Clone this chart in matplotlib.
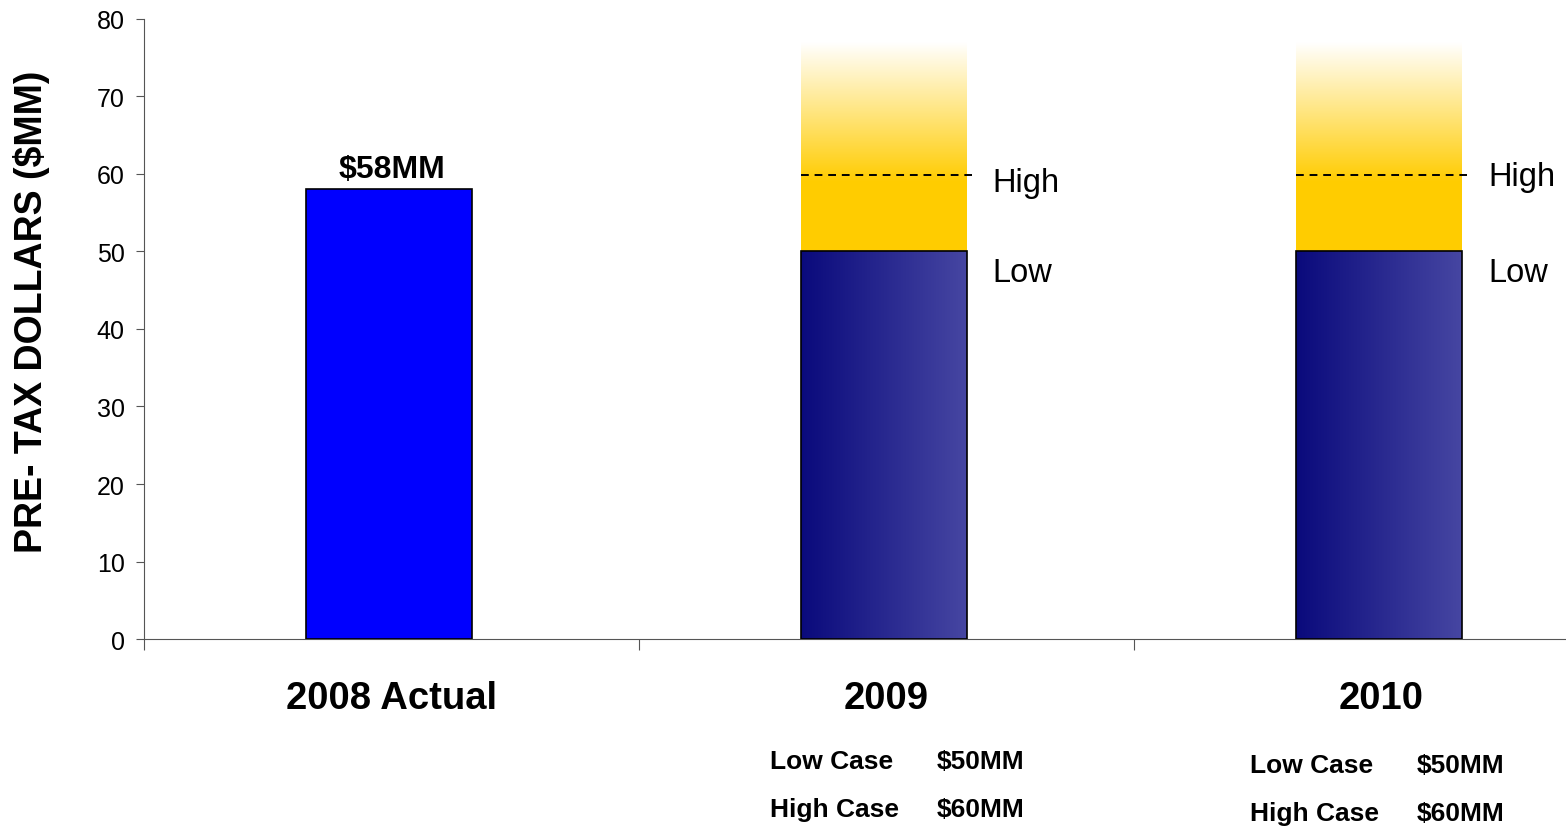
import numpy as np
import matplotlib.pyplot as plt
from matplotlib.colors import to_rgb

plt.rcParams["font.family"] = ["Liberation Sans", "DejaVu Sans"]

categories = ["2008 Actual", "2009", "2010"]
actual_value = 58
low_values = [50, 50]
high_values = [60, 60]
fade_top = 77
case_labels = ["Low Case", "High Case"]

bar_w = 0.335
shift = -0.005
navy_left = "#0a0a7c"
navy_right = "#4646a2"
yellow = "#ffcc00"

fig = plt.figure(figsize=(15.66, 8.28), dpi=100)
ax = fig.add_axes([0.092, 0.227, 0.908, 0.749])

# 2008 actual bar
ax.bar(0 + shift, actual_value, width=bar_w, color="#0000ff", edgecolor="black", linewidth=1.2, zorder=3)
ax.text(0, actual_value + 2.6, f"${actual_value}MM", ha="center", va="center",
        fontsize=23, fontweight="bold")

# horizontal navy gradient
c1 = np.array(to_rgb(navy_left))
c2 = np.array(to_rgb(navy_right))
t = np.linspace(0, 1, 200)
navy_img = (c1[None, :] * (1 - t[:, None]) + c2[None, :] * t[:, None])[None, :, :]

# vertical yellow -> white fade
cy = np.array(to_rgb(yellow))
s = np.linspace(0, 1, 200)
fade = (cy[None, :] * (1 - s[:, None]) + np.ones(3)[None, :] * s[:, None])[:, None, :]

for i, (lo, hi) in enumerate(zip(low_values, high_values), start=1):
    x0, x1 = i + shift - bar_w / 2, i + shift + bar_w / 2
    ax.imshow(navy_img, extent=[x0, x1, 0, lo], aspect="auto", origin="lower", zorder=2)
    ax.add_patch(plt.Rectangle((x0, 0), bar_w, lo, fill=False, edgecolor="black", linewidth=1.2, zorder=3))
    ax.bar(i + shift, hi - 1 - lo, bottom=lo, width=bar_w, color=yellow, zorder=2)
    ax.imshow(fade, extent=[x0, x1, hi - 1, fade_top], aspect="auto", origin="lower", zorder=2)
    ax.plot([x0, x1 + 0.01], [hi - 0.2, hi - 0.2], color="black", linestyle=(0, (4, 3)), linewidth=1.4, zorder=4)

ax.text(1.213, 58.9, "High", fontsize=23.5, va="center", ha="left")
ax.text(1.213, 47.3, "Low", fontsize=23.5, va="center", ha="left")
ax.text(2.217, 59.7, "High", fontsize=23.5, va="center", ha="left")
ax.text(2.217, 47.3, "Low", fontsize=23.5, va="center", ha="left")

# category labels
for i, c in enumerate(categories):
    ax.text(i, -7.6, c, ha="center", va="center", fontsize=27.5, fontweight="bold", clip_on=False)

# case notes under 2009 / 2010
note_pos = [(0.765, 1.102, -15.7, -21.9), (1.734, 2.072, -16.2, -22.4)]
for (xl, xv, y1, y2), lo, hi in zip(note_pos, low_values, high_values):
    ax.text(xl, y1, case_labels[0], ha="left", va="center", fontsize=19, fontweight="bold", clip_on=False)
    ax.text(xv, y1, f"${lo}MM", ha="left", va="center", fontsize=19, fontweight="bold", clip_on=False)
    ax.text(xl, y2, case_labels[1], ha="left", va="center", fontsize=19, fontweight="bold", clip_on=False)
    ax.text(xv, y2, f"${hi}MM", ha="left", va="center", fontsize=19, fontweight="bold", clip_on=False)

ax.set_xlim(-0.5, 2.373)
ax.set_ylim(0, 80)
ax.set_yticks(range(0, 81, 10))
ax.tick_params(axis="y", labelsize=18, length=6, color="#555555", pad=8)
ax.set_xticks([-0.5, 0.5, 1.5])
ax.set_xticklabels([])
ax.tick_params(axis="x", length=8, color="#555555")
for side in ["top", "right"]:
    ax.spines[side].set_visible(False)
for side in ["left", "bottom"]:
    ax.spines[side].set_color("#555555")
fig.text(32 / 1566, 0.623, "PRE- TAX DOLLARS ($MM)", rotation=90, ha="center", va="center",
         fontsize=27, fontweight="bold")

fig.savefig("out.png", dpi=100)
